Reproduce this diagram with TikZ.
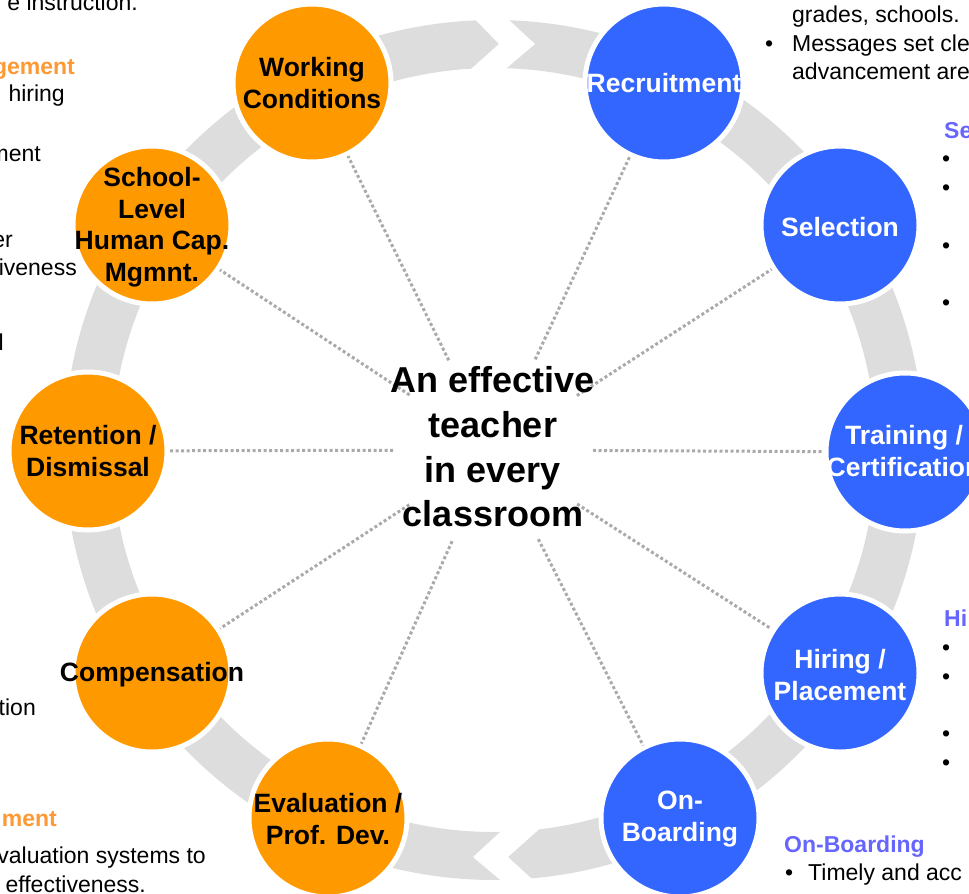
\documentclass[tikz,border=0pt]{standalone}
\usepackage{fontspec}
\setmainfont{Liberation Sans}
\usetikzlibrary{calc}
\definecolor{corange}{HTML}{FF9900}
\definecolor{cblue}{HTML}{3366FF}
\definecolor{cband}{HTML}{DDDDDD}
\definecolor{cspoke}{HTML}{AAAAAA}
\definecolor{cpurple}{HTML}{6666FF}
\definecolor{chead}{HTML}{FF9933}
\begin{document}
\begin{tikzpicture}[x=1pt,y=-1pt,
  circ/.style={circle, minimum size=158pt, inner sep=0pt, draw=white, line width=5pt},
  onode/.style={circ, fill=corange},
  bnode/.style={circ, fill=cblue},
  otext/.style={align=center, inner sep=0pt, text=black, font=\fontsize{26.5}{31.5}\selectfont\bfseries},
  btext/.style={otext, text=white},
  spoke/.style={cspoke, line width=3pt, dash pattern=on 3pt off 2.5pt},
  body/.style={anchor=base west, inner sep=0pt, font=\fontsize{23}{28}\selectfont},
  bodyr/.style={anchor=base east, inner sep=0pt, font=\fontsize{23}{28}\selectfont},
  phead/.style={anchor=base west, inner sep=0pt, text=cpurple, font=\fontsize{23}{28}\selectfont\bfseries},
  ohead/.style={anchor=base east, inner sep=0pt, text=chead, font=\fontsize{23}{28}\selectfont\bfseries},
  bul/.style={anchor=base west, inner sep=0pt, font=\fontsize{23}{28}\selectfont}
]
\useasboundingbox (0,0) rectangle (969,894);
\clip (0,0) rectangle (969,894);

% ring band
\draw[cband, line width=48pt] (494,450) circle[radius=406pt];
% chevron gaps
\fill[white] (466,10) -- (499,44) -- (461,78) -- (495,78) -- (535,44) -- (498,10) -- cycle;
\fill[white] (510,823) -- (473,857) -- (512,890) -- (544,890) -- (508,857) -- (546,823) -- cycle;

\coordinate (hub) at (493,450);

% circles
\node[onode] (work) at (312,83) {};
\node[bnode] (recr) at (664,83) {};
\node[bnode] (sel)  at (840,225) {};
\node[bnode] (train) at (905,452) {};
\node[bnode] (hire) at (840,673) {};
\node[bnode] (onb)  at (680,818) {};
\node[onode] (eval) at (328,818) {};
\node[onode] (comp) at (152,673) {};
\node[onode] (ret)  at (88,451) {};
\node[onode] (school) at (152,225) {};

% spokes
\foreach \n in {work,recr,sel,train,hire,onb,eval,comp,ret,school}{
  \draw[spoke] ($(hub)!100pt!(\n)$) -- (\n);
}

% circle texts
\node[otext] (workt) at (312,83) {Working\\Conditions};
\node[btext] (recrt) at (664,83) {Recruitment};
\node[btext] (selt)  at (840,227) {Selection};
\node[btext] (traint) at (904,451) {Training /\\Certification};
\node[btext] (hiret) at (840,675) {Hiring /\\Placement};
\node[btext] (onbt)  at (680,819) {On-\\Boarding};
\node[otext] (evalt) at (328,819) {Evaluation /\\Prof. Dev.};
\node[otext] (compt) at (152,675) {Compensation};
\node[otext] (rett)  at (88,451) {Retention /\\Dismissal};
\node[otext] (schoolt) at (152,227) {School-\\Level\\Human Cap.\\Mgmnt.};

% center
\node[align=center, inner sep=0pt, font=\fontsize{36}{44.7}\selectfont\bfseries] (center) at (493,447)
  {An effective\\teacher\\in every\\classroom};

% right top text
\node[body] (rt1) at (792,22) {grades, schools.};
\node[bul] (rb1) at (765,51) {•};
\node[body] (rt2) at (792,51) {Messages set cle};
\node[body] (rt3) at (792,79) {advancement are};

% Selection column
\node[phead] (selh) at (944,138) {Se};
\node[bul] (sb1) at (942,166) {•};
\node[bul] (sb2) at (942,195) {•};
\node[bul] (sb3) at (942,253) {•};
\node[bul] (sb4) at (942,310) {•};

% Hiring column
\node[phead] (hirh) at (944,626) {Hi};
\node[bul] (hb1) at (942,655) {•};
\node[bul] (hb2) at (942,684) {•};
\node[bul] (hb3) at (942,741) {•};
\node[bul] (hb4) at (942,770) {•};

% On-Boarding
\node[phead] (onbh) at (784,852) {On-Boarding};
\node[bul] (ob1) at (785,880) {•};
\node[body] (ot1) at (808,880) {Timely and acc};

% left text fragments
\node[bodyr] (lt1) at (138,10) {e instruction.};
\node[ohead] (lh1) at (75,74) {gement};
\node[bodyr] (lt2) at (65,101) {hiring};
\node[bodyr] (lt3) at (41,161) {ment};
\node[bodyr] (lt4) at (13,247) {er};
\node[bodyr] (lt5) at (77,275) {iveness};
\node[bodyr] (lt6) at (4,350) {l};
\node[bodyr] (lt7) at (36,715) {tion};
\node[ohead] (lh2) at (57,826) {ment};
\node[bodyr] (lt8) at (206,863) {valuation systems to};
\node[bodyr] (lt9) at (146,892) {effectiveness.};
\end{tikzpicture}
\end{document}
